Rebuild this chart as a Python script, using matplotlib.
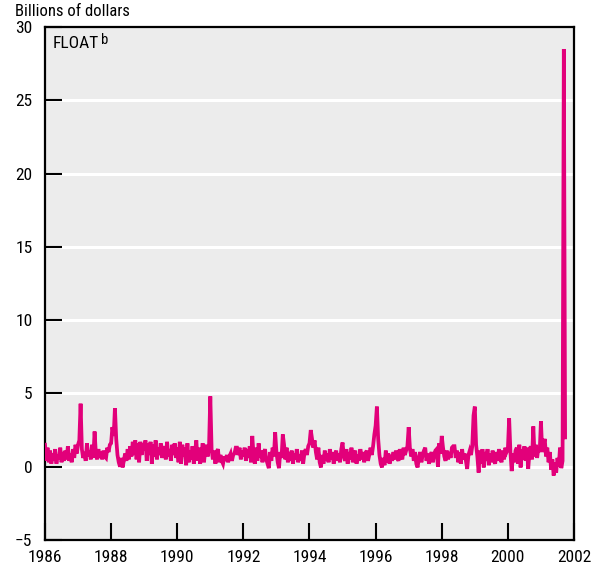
import matplotlib
matplotlib.use("Agg")
import matplotlib.pyplot as plt
from matplotlib import font_manager
import numpy as np

# Biweekly readings (26 per year), billions of dollars
y1986 = [1.5, 0.4, 1.3, 0.3, 1.1, 0.2, 0.9, 0.4, 1.2, 0.2, 0.8, 0.5, 1.3,
         0.3, 1.0, 0.4, 1.1, 0.5, 1.4, 0.4, 0.9, 0.3, 1.2, 0.6, 1.5, 0.9]
y1987 = [1.5, 1.8, 4.3, 1.2, 0.6, 1.0, 0.4, 1.6, 0.7, 1.1, 0.5, 1.5, 0.6,
         2.4, 0.9, 0.5, 1.2, 0.6, 1.0, 0.5, 1.1, 0.7, 0.6, 1.3, 1.0, 1.5]
y1988 = [1.6, 2.7, 2.1, 4.0, 1.9, 0.8, 0.3, 0.0, 0.6, -0.05, 0.4, 0.9, 0.4,
         1.2, 0.5, 1.4, 0.7, 1.7, 0.8, 1.8, 0.5, 1.6, 0.3, 1.7, 0.8, 1.6]
y1989 = [1.1, 1.8, 0.4, 1.6, 0.8, 1.7, 0.2, 1.5, 0.7, 1.8, 0.5, 1.3, 0.8,
         1.6, 0.6, 1.1, 1.4, 0.5, 1.7, 0.7, 1.2, 0.4, 1.5, 0.8, 1.6, 0.6]
y1990 = [1.3, 0.3, 1.7, 0.2, 1.5, 0.7, 1.3, 0.1, 1.6, 0.3, 1.1, 0.5, 1.4,
         0.2, 1.0, 1.8, 0.4, 1.3, 0.2, 0.8, 1.6, 0.3, 1.1, 1.5, 0.7, 1.4]
y1991 = [4.8, 1.2, 0.5, 1.1, 0.2, 1.0, 1.2, 0.3, 0.8, 0.4, 0.2, 0.7, 0.4,
         0.8, 0.3, 0.7, 0.9, 0.4, 0.8, 0.9, 1.3, 1.3, 0.8, 1.3, 0.5, 1.1]
y1992 = [0.7, 1.3, 0.4, 1.2, 0.6, 1.4, 0.3, 2.1, 0.8, 0.2, 1.3, 0.4, 1.6,
         0.6, 1.1, 0.3, 0.9, 1.2, 0.5, 0.2, -0.1, 1.0, 0.4, 1.3, 0.7, 2.35]
y1993 = [1.0, 0.3, -0.1, 1.0, 0.6, 2.2, 1.5, 0.5, 1.3, 0.3, 1.0, 0.4, 1.1,
         0.2, 0.9, 0.5, 1.2, 0.3, 0.8, 0.4, 1.1, 0.2, 0.9, 1.2, 0.8, 1.4]
y1994 = [1.6, 2.5, 1.9, 1.3, 1.8, 1.0, 0.5, 1.3, 0.3, -0.05, 0.8, 0.2, 1.1,
         0.4, 0.9, 0.3, 1.2, 0.5, 1.0, 0.2, 0.8, 1.1, 0.4, 0.9, 0.3, 1.2]
y1995 = [1.65, 0.7, 0.4, 1.2, 0.2, 1.0, 0.5, 1.3, 0.3, 0.9, 1.1, 0.2, 0.8,
         0.4, 1.2, 0.5, 1.0, 0.3, 0.9, 1.1, 0.4, 0.8, 1.3, 0.8, 1.4, 2.2]
y1996 = [2.8, 4.1, 1.9, 0.8, 0.2, -0.05, 0.6, 0.1, 1.1, 0.3, 0.9, 0.2, 0.8,
         0.4, 1.0, 0.5, 1.1, 0.6, 0.4, 1.2, 0.7, 0.5, 1.3, 0.8, 1.1, 1.4]
y1997 = [2.7, 1.2, 0.7, 1.2, 0.4, 1.0, 0.2, -0.05, 0.6, 1.0, 0.3, 0.8, 1.1,
         1.3, 0.4, 0.9, 0.2, 0.7, 1.0, 0.3, 0.8, 1.1, 1.2, 0.0, 1.6, 0.9]
y1998 = [2.1, 1.3, 0.7, 0.4, 1.1, 0.5, 1.0, 0.6, 1.3, 1.4, 1.4, 0.6, 1.1,
         0.3, 1.0, 0.2, 1.2, 0.5, 0.9, 0.4, -0.15, 0.8, 1.1, 0.8, 1.4, 3.5]
y1999 = [4.1, 1.5, 0.7, -0.4, 1.1, 0.2, 1.2, -0.05, 1.0, 0.4, 1.2, 0.1, 0.9,
         0.3, 1.1, 0.5, 0.2, 1.0, 0.4, 1.2, 0.6, 0.3, 1.1, 0.5, 1.3, 1.0]
y2000 = [1.2, 3.3, 1.0, -0.3, 0.9, 0.3, 1.1, 1.3, 0.2, 1.5, -0.05, 1.2, 0.5,
         1.4, 0.4, 1.3, -0.15, 1.0, 1.4, 0.5, 2.75, 0.7, 1.5, 0.6, 1.3, 1.0]
y2001 = [3.1, 1.0, 1.5, 1.9, 0.7, 1.3, 0.3, 1.0, -0.2, 0.5, -0.6, 0.3, -0.4,
         0.6, 0.0, 1.3, -0.1, 0.4, 28.5, 2.0]

years = list(range(1986, 2002))
series = [y1986, y1987, y1988, y1989, y1990, y1991, y1992, y1993,
          y1994, y1995, y1996, y1997, y1998, y1999, y2000, y2001]

x_ticks = list(range(1986, 2003, 2))
y_ticks = [-5, 0, 5, 10, 15, 20, 25, 30]

t = np.concatenate([yr + np.arange(len(v)) / 26.0 for yr, v in zip(years, series)])
vals = np.concatenate([np.array(v, dtype=float) for v in series])

# narrow face if one is installed, else DejaVu Sans condensed
names = {f.name for f in font_manager.fontManager.ttflist}
narrow = [n for n in ("Liberation Sans Narrow", "Roboto Condensed", "Open Sans Condensed")
          if n in names]
if narrow:
    plt.rcParams["font.family"] = [narrow[0], "DejaVu Sans"]
else:
    plt.rcParams["font.family"] = ["DejaVu Sans"]
    plt.rcParams["font.stretch"] = "condensed"

fig = plt.figure(figsize=(5.92, 5.71), dpi=100)
ax = fig.add_axes([0.076, 0.0543, 0.8936, 0.8984])
ax.set_facecolor("#ececec")

for yv in y_ticks[1:-1]:
    ax.axhline(yv, color="white", lw=2.2, zorder=1)

ax.plot(t, vals, color="#e2007a", lw=2.7, solid_joinstyle="miter", zorder=3)

ax.set_xlim(1986, 2002)
ax.set_ylim(-5, 30)
ax.set_xticks(x_ticks)
ax.set_yticks(y_ticks)
ax.set_yticklabels([("\u2212" + str(-v)) if v < 0 else str(v) for v in y_ticks])
ax.tick_params(direction="in", length=12, width=1.5, labelsize=12.5, color="black")
ax.tick_params(axis="y", pad=9)
ax.tick_params(axis="x", pad=7)
for sp in ax.spines.values():
    sp.set_linewidth(1.6)
    sp.set_color("black")

fig.text(0.025, 0.993, "Billions of dollars", fontsize=12, ha="left", va="top")
lbl = ax.text(0.014, 0.982, "FLOAT", transform=ax.transAxes,
              fontsize=12.5, ha="left", va="top")
ax.annotate("b", xy=(1, 1), xycoords=lbl, xytext=(2, 2), textcoords="offset points",
            fontsize=10.5, ha="left", va="top")

fig.savefig("out.png", dpi=100)
